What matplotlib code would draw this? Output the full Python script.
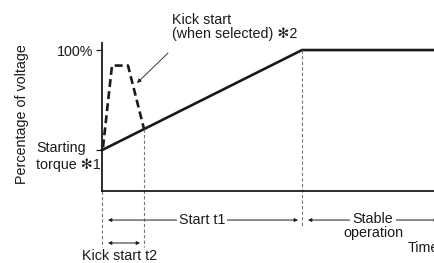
import matplotlib
matplotlib.use("Agg")
import matplotlib.pyplot as plt

plt.rcParams['font.family'] = ['Liberation Sans', 'DejaVu Sans']

# data (time in arbitrary units, voltage in %)
soft_time = [0, 100, 166]
soft_voltage = [29, 100, 100]
kick_time = [0.5, 5, 13, 21]
kick_voltage = [31, 89, 89, 44]

t_kick_end = 21
t_start_end = 100

fig = plt.figure(figsize=(4.34, 2.63), dpi=100)
ax = fig.add_axes([102/434, 72/263, 332/434, 148/263])
ax.set_xlim(0, 166)
ax.set_ylim(0, 105)

ink = '#1a1a1a'
fs = 10.3
ax.plot(soft_time, soft_voltage, color=ink, lw=1.9, solid_joinstyle='miter', clip_on=False)
ax.plot(kick_time, kick_voltage, color=ink, lw=1.9, ls=(0, (3, 1.6)), clip_on=False)

for s in ['top', 'right']:
    ax.spines[s].set_visible(False)
for s in ['left', 'bottom']:
    ax.spines[s].set_linewidth(1.3)
    ax.spines[s].set_color(ink)
ax.set_xticks([])
ax.set_yticks([soft_voltage[0], 100])
ax.set_yticklabels(['', '100%'], fontsize=fs)
ax.tick_params(axis='y', length=4.5, width=0.9, pad=2, colors=ink)

# vertical guides
gcol = '#777777'
ax.plot([0, 0], [0, -40], color=gcol, lw=0.8, ls=(0, (3, 2)), clip_on=False)
ax.plot([t_kick_end, t_kick_end], [kick_voltage[-1], -40], color=gcol, lw=0.8, ls=(0, (3, 2)), clip_on=False)
ax.plot([t_start_end, t_start_end], [100, -26], color=gcol, lw=0.8, ls=(0, (3, 2)), clip_on=False)

arr = dict(arrowstyle='<|-|>', color=ink, lw=0.7, mutation_scale=5, shrinkA=0, shrinkB=0)
ax.annotate('', xy=(3, -20.6), xytext=(98, -20.6), arrowprops=arr, annotation_clip=False)
ax.text(50, -20.6, 'Start t1', fontsize=fs, ha='center', va='center', color=ink,
        bbox=dict(fc='white', ec='none', pad=1.5), clip_on=False)

ax.annotate('', xy=(103, -20.6), xytext=(168, -20.6), arrowprops=arr, annotation_clip=False)
ax.text(135.5, -19.6, 'Stable', fontsize=fs, ha='center', va='center', color=ink,
        bbox=dict(fc='white', ec='none', pad=1.5), clip_on=False)
ax.text(135.5, -29.5, 'operation', fontsize=fs, ha='center', va='center', color=ink, clip_on=False)

ax.annotate('', xy=(3, -36.9), xytext=(19, -36.9), arrowprops=arr, annotation_clip=False)
ax.text(9, -46, 'Kick start t2', fontsize=fs, ha='center', va='center', color=ink, clip_on=False)

# axis title runs off the right edge, as in the original
ax.text(153, -40.5, 'Time', fontsize=fs, ha='left', va='center', color=ink, clip_on=False)

ax.text(-40, 54.6, 'Percentage of voltage', fontsize=fs, rotation=90, ha='center', va='center',
        color=ink, clip_on=False)
ax.text(-33, 30.5, 'Starting', fontsize=fs, ha='left', va='center', color=ink, clip_on=False)
ax.text(-33, 18.5, 'torque \u273b1', fontsize=fs, ha='left', va='center', color=ink, clip_on=False)

ax.text(35, 116.3, 'Kick start\n(when selected) \u273b2', fontsize=fs, ha='left', va='center',
        color=ink, linespacing=1.05, clip_on=False)
ax.annotate('', xy=(17.5, 76.6), xytext=(33, 97.9),
            arrowprops=dict(arrowstyle='-|>', color=ink, lw=0.6, mutation_scale=6,
                            shrinkA=0, shrinkB=0),
            annotation_clip=False)

fig.savefig('out.png', dpi=100)
